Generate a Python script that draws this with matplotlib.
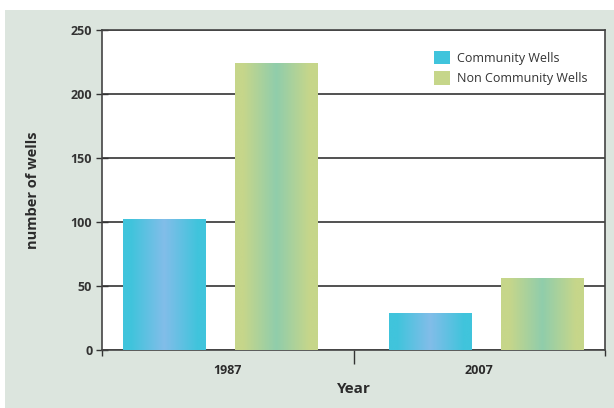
import numpy as np
import matplotlib
matplotlib.use("Agg")
import matplotlib.pyplot as plt
from matplotlib.colors import to_rgb
from matplotlib.patches import Patch, Rectangle

plt.rcParams["font.family"] = ["Open Sans", "DejaVu Sans"]

years = ["1987", "2007"]
series = ["Community Wells", "Non Community Wells"]
community = [102, 29]
non_community = [224, 56]
y_ticks = [0, 50, 100, 150, 200, 250]

# edge colour / centre colour of the horizontal gradient on each bar
COMM = ("#40c4dc", "#82bde9")
NONCOMM = ("#c6d68a", "#90cdab")
PANEL = "#dce5de"
INK = "#2b2b2b"
GRIDC = "#333333"


def gradient_fill(ax, bar, edge, centre):
    t = np.linspace(0, 1, 200)
    f = np.clip((1 - np.abs(2 * t - 1) - 0.2) / 0.8, 0, 1)
    e, c = np.array(to_rgb(edge)), np.array(to_rgb(centre))
    img = e[None, :] + (c - e)[None, :] * f[:, None]
    x0, y0 = bar.get_x(), bar.get_y()
    im = ax.imshow(img[None, :, :], extent=(x0, x0 + bar.get_width(), y0, y0 + bar.get_height()),
                   aspect="auto", zorder=3, interpolation="bilinear")
    im.set_clip_path(bar)


fig = plt.figure(figsize=(6.14, 4.08), dpi=100, facecolor="white")
fig.patches.append(Rectangle((5 / 614, 0), 1, (408 - 10) / 408, transform=fig.transFigure,
                             facecolor=PANEL, edgecolor="none", zorder=-10))
ax = fig.add_axes([102 / 614, 58 / 408, 503 / 614, 320 / 408])
ax.set_facecolor("white")

centers = np.array([0.47, 1.53])
w = 0.33
b1 = ax.bar(centers - 0.222, community, w, color="none", zorder=3)
b2 = ax.bar(centers + 0.222, non_community, w, color="none", zorder=3)
for b in b1:
    gradient_fill(ax, b, *COMM)
for b in b2:
    gradient_fill(ax, b, *NONCOMM)

ax.set_xlim(0, 2)
ax.set_ylim(0, 250)
ax.set_yticks(y_ticks)
ax.set_yticklabels([str(v) for v in y_ticks], fontsize=9, fontweight="bold", color=INK)
ax.tick_params(axis="y", direction="inout", length=8, width=1, colors=GRIDC, pad=3)
ax.yaxis.grid(True, color=GRIDC, linewidth=1.2, zorder=1)
ax.set_axisbelow(True)

ax.set_xticks([0, 1, 2])
ax.set_xticklabels(["", "", ""])
ax.tick_params(axis="x", which="major", direction="out", length=10, width=1, colors=GRIDC)
# the two outer ticks are short stubs in the original
for t in (ax.xaxis.get_major_ticks()[0], ax.xaxis.get_major_ticks()[2]):
    t.tick1line.set_markersize(4)
ax.set_xticks([0.5, 1.5], minor=True)
ax.set_xticklabels(years, minor=True, fontsize=9, fontweight="bold", color=INK)
ax.tick_params(axis="x", which="minor", length=0, pad=10)

for s in ax.spines.values():
    s.set_color("#444444")
    s.set_linewidth(1.2)

ax.set_ylabel("number of wells", fontsize=10.5, fontweight="bold", color=INK, labelpad=22)
ax.set_xlabel("Year", fontsize=11, fontweight="bold", color=INK, labelpad=4)

handles = [Patch(facecolor=COMM[0], edgecolor="none"), Patch(facecolor=NONCOMM[0], edgecolor="none")]
ax.legend(handles, series, loc="upper left", bbox_to_anchor=((428 - 102) / 503, (350 - 45) / 320),
          frameon=False, fontsize=9, handlelength=1.25, handleheight=1.25, handletextpad=0.55,
          labelspacing=0.5, borderpad=0, labelcolor="#333333")

fig.savefig("out.png", dpi=100, facecolor="white")
